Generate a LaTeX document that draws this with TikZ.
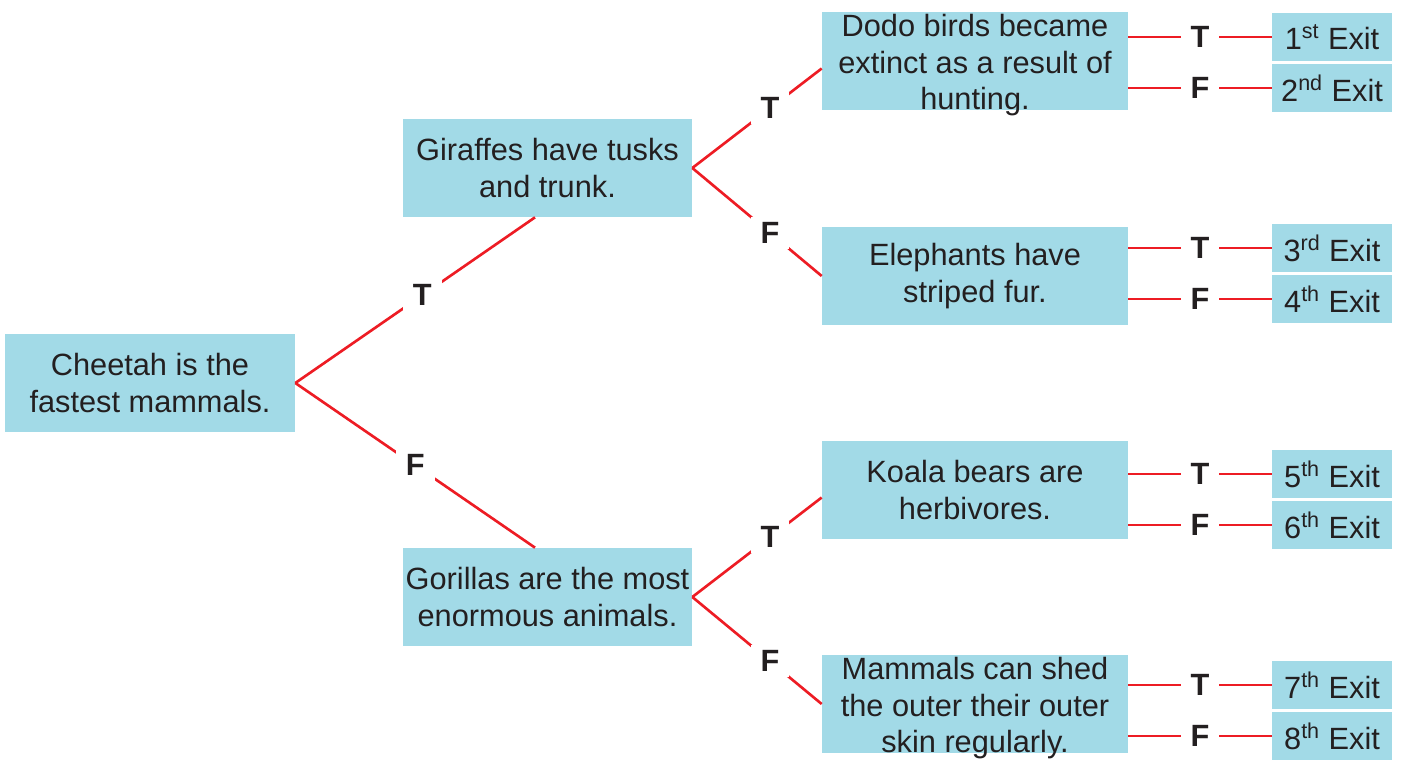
\documentclass[tikz,border=0pt]{standalone}
\usepackage{fontspec}
\setmainfont{Liberation Sans}
\usetikzlibrary{positioning}
\definecolor{boxblue}{HTML}{A2DAE7}
\definecolor{linered}{HTML}{ED1C24}
\definecolor{inkgray}{HTML}{231F20}

\begin{document}
\begin{tikzpicture}[x = 0.02cm, y = -0.02cm,
    qbox/.style = {fill=boxblue, text=inkgray, align=center, inner sep=0pt,
      minimum height=1.96cm, font=\fontsize{17.5}{21}\selectfont},
    exitbox/.style = {fill=boxblue, text=inkgray, inner sep=0pt,
      minimum width=2.4cm, minimum height=0.96cm, font=\fontsize{17.5}{21}\selectfont},
    tf/.style = {fill=white, text=inkgray, inner xsep=0.2cm, inner ysep=3pt,
      font=\fontsize{17.5}{21}\selectfont\bfseries},
    link/.style = {draw=linered, line width=1.5pt}]
  \useasboundingbox (0,0) rectangle (1402,760);

  % Level 0: first question
  \node[qbox, minimum width=5.8cm] (cheetah) at (150,383) {Cheetah is the\\fastest mammals.};

  % Level 1: second questions
  \node[qbox, minimum width=5.78cm] (giraffes) at (547.5,168) {Giraffes have tusks\\and trunk.};
  \node[qbox, minimum width=5.78cm] (gorillas) at (547.5,597) {Gorillas are the most\\enormous animals.};

  % Level 2: third questions
  \node[qbox, minimum width=6.12cm, text height=1.96cm, text depth=0pt] (dodo) at (975,61) {Dodo birds became\\extinct as a result of\\hunting.};
  \node[qbox, minimum width=6.12cm] (elephants) at (975,276) {Elephants have\\striped fur.};
  \node[qbox, minimum width=6.12cm] (koala) at (975,490) {Koala bears are\\herbivores.};
  \node[qbox, minimum width=6.12cm, text height=1.96cm, text depth=0pt] (mammals) at (975,704) {Mammals can shed\\the outer their outer\\skin regularly.};

  % Level 3: exits
  \node[exitbox] (e1) at (1332,37) {1\textsuperscript{st} Exit};
  \node[exitbox] (e2) at (1332,88) {2\textsuperscript{nd} Exit};
  \node[exitbox] (e3) at (1332,248) {3\textsuperscript{rd} Exit};
  \node[exitbox] (e4) at (1332,299) {4\textsuperscript{th} Exit};
  \node[exitbox] (e5) at (1332,474) {5\textsuperscript{th} Exit};
  \node[exitbox] (e6) at (1332,525) {6\textsuperscript{th} Exit};
  \node[exitbox] (e7) at (1332,685) {7\textsuperscript{th} Exit};
  \node[exitbox] (e8) at (1332,736) {8\textsuperscript{th} Exit};

  % Edges from cheetah
  \draw[link] (cheetah.east) -- node[tf, pos=0.53] {T} ([xshift=-0.25cm]giraffes.south);
  \draw[link] (cheetah.east) -- node[tf, pos=0.5] {F} ([xshift=-0.25cm]gorillas.north);

  % Edges from giraffes
  \draw[link] (giraffes.east) -- node[tf, pos=0.6] {T} ([yshift=-0.15cm]dodo.west);
  \draw[link] (giraffes.east) -- node[tf, pos=0.6] {F} (elephants.west);

  % Edges from gorillas
  \draw[link] (gorillas.east) -- node[tf, pos=0.6] {T} ([yshift=-0.15cm]koala.west);
  \draw[link] (gorillas.east) -- node[tf, pos=0.6] {F} (mammals.west);

  % Edges from dodo
  \draw[link] (dodo.east |- e1.west) -- node[tf] {T} (e1.west);
  \draw[link] (dodo.east |- e2.west) -- node[tf] {F} (e2.west);

  % Edges from elephants
  \draw[link] (elephants.east |- e3.west) -- node[tf] {T} (e3.west);
  \draw[link] (elephants.east |- e4.west) -- node[tf] {F} (e4.west);

  % Edges from koala
  \draw[link] (koala.east |- e5.west) -- node[tf] {T} (e5.west);
  \draw[link] (koala.east |- e6.west) -- node[tf] {F} (e6.west);

  % Edges from mammals
  \draw[link] (mammals.east |- e7.west) -- node[tf] {T} (e7.west);
  \draw[link] (mammals.east |- e8.west) -- node[tf] {F} (e8.west);

\end{tikzpicture}
\end{document}
